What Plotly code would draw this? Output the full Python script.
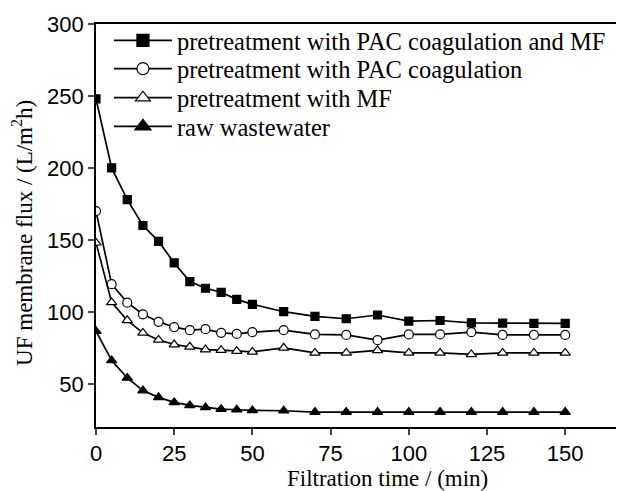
import plotly.graph_objects as go

time_min = [0, 5, 10, 15, 20, 25, 30, 35, 40, 45, 50, 60, 70, 80, 90, 100, 110, 120, 130, 140, 150]

flux_pac_mf = [248, 200, 178, 160, 149, 134, 121, 116.4, 113.6, 108.7, 105.2, 100.1, 96.9, 95.2, 97.8,
               93.6, 94, 92.4, 92.2, 92, 92]
flux_pac = [170, 119.2, 106.4, 98.3, 93.1, 89.4, 87.3, 88, 85.4, 84.7, 85.9, 87.3, 84.3, 84, 80.3,
            84.3, 84.3, 85.9, 84, 84, 84]
flux_mf = [148, 106.6, 94.1, 85.4, 80.5, 77.3, 75.7, 73.8, 73.4, 72.7, 72.2, 75, 71.5, 71.5, 73.2,
           71.5, 71.5, 70.4, 71.5, 71.5, 71.5]
flux_raw = [86.6, 66.2, 54.1, 45.3, 40.6, 37.1, 35, 33.6, 32.4, 32, 31.5, 31.3, 30.4, 30.4, 30.4,
            30.4, 30.4, 30.4, 30.4, 30.4, 30.4]

series_names = ["pretreatment with PAC coagulation and MF",
                "pretreatment with PAC coagulation",
                "pretreatment with MF",
                "raw wastewater"]
series_values = [flux_pac_mf, flux_pac, flux_mf, flux_raw]
x_ticks = [0, 25, 50, 75, 100, 125, 150]
y_ticks = [50, 100, 150, 200, 250, 300]

styles = [
    dict(symbol="square", color="black", size=8, lsize=12),
    dict(symbol="circle", color="white", size=9, lsize=12),
    dict(symbol="triangle-up", color="white", size=9, lsize=13),
    dict(symbol="triangle-up", color="black", size=9, lsize=14),
]
legend_ids = ["legend", "legend2", "legend3", "legend4"]
legend_rows = [0.959, 0.889, 0.817, 0.746]

fig = go.Figure()
for name, vals, st in zip(series_names, series_values, styles):
    fig.add_trace(go.Scatter(
        x=time_min, y=vals, mode="lines+markers", showlegend=False,
        line=dict(color="black", width=1.7),
        marker=dict(symbol=st["symbol"], size=st["size"], color=st["color"],
                    line=dict(color="black", width=1.2)),
    ))
for name, st, lid in zip(series_names, styles, legend_ids):
    fig.add_trace(go.Scatter(
        x=[None], y=[None], mode="lines+markers", name=name, legend=lid, showlegend=True,
        line=dict(color="black", width=1.7),
        marker=dict(symbol=st["symbol"], size=st["lsize"], color=st["color"],
                    line=dict(color="black", width=1.2)),
    ))

legend_font = dict(family="Liberation Serif", size=24.5, color="black")
legend_layout = {}
for lid, ly in zip(legend_ids, legend_rows):
    legend_layout[lid] = dict(x=0.0245, y=ly, xanchor="left", yanchor="middle",
                              font=legend_font, bgcolor="rgba(0,0,0,0)", itemwidth=58)

fig.update_layout(
    width=616, height=483,
    margin=dict(l=88, r=0, t=16, b=63.7),
    plot_bgcolor="white", paper_bgcolor="white",
    showlegend=True,
    xaxis=dict(range=[0, 168.8], tickvals=x_ticks, ticks="outside", ticklen=6, tickwidth=1.5,
               showline=True, linewidth=1.8, linecolor="black", mirror=True, showgrid=False,
               zeroline=False, tickfont=dict(family="Liberation Sans", size=22, color="black")),
    yaxis=dict(range=[20, 300], tickvals=y_ticks, ticks="outside", ticklen=6, tickwidth=1.5,
               showline=True, linewidth=1.8, linecolor="black", showgrid=False,
               zeroline=False, tickfont=dict(family="Liberation Sans", size=22, color="black")),
    annotations=[
        dict(text="Filtration time / (min)", xref="paper", yref="paper", x=0.552, y=-0.128,
             xanchor="center", yanchor="middle", showarrow=False,
             font=dict(family="Liberation Serif", size=23, color="black")),
        dict(text="UF membrane flux / (L/m<sup>2</sup>h)", xref="paper", yref="paper",
             x=-0.138, y=0.482, xanchor="center", yanchor="middle", textangle=-90,
             showarrow=False, font=dict(family="Liberation Serif", size=23, color="black")),
    ],
    **legend_layout,
)

fig.write_html("out.html")
